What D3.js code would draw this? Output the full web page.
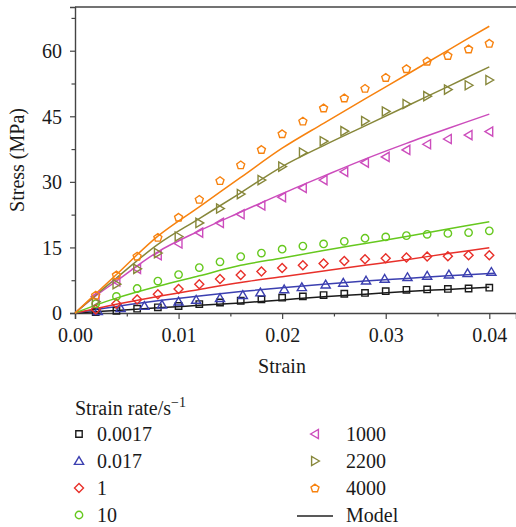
<!DOCTYPE html>
<html>
<head>
<meta charset="utf-8">
<script src="https://cdn.jsdelivr.net/npm/d3@7"></script>
<style>
  html, body { margin: 0; padding: 0; background: #fff; }
  svg { display: block; }
  text { font-family: "Liberation Serif", "DejaVu Serif", serif; fill: #1a1a1a; }
</style>
</head>
<body>
<svg id="chart" width="516" height="527"></svg>
<script>
// Measured strain values (shared by most series)
const strain = [0.002, 0.004, 0.006, 0.008, 0.010, 0.012, 0.014, 0.016, 0.018, 0.020,
                0.022, 0.024, 0.026, 0.028, 0.030, 0.032, 0.034, 0.036, 0.038, 0.040];
// The 0.017 s^-1 test was sampled at slightly different strains
const strainB = [0.0022, 0.0044, 0.0067, 0.0084, 0.0100, 0.0117, 0.0140, 0.0162, 0.0179, 0.0202,
                 0.0219, 0.0242, 0.0259, 0.0281, 0.0299, 0.0321, 0.0340, 0.0361, 0.0379, 0.0402];

// Measured stress (MPa)
const s0017 = [0.2, 0.5, 1.0, 1.3, 1.6, 2.05, 2.4, 2.8, 3.1, 3.5, 3.8, 4.1, 4.4, 4.6, 5.0, 5.3, 5.4, 5.5, 5.6, 5.8];
const s017  = [0.4, 1.1, 1.6, 1.9, 2.6, 3.0, 3.4, 4.1, 4.7, 5.4, 5.9, 6.5, 6.9, 7.4, 7.8, 8.2, 8.5, 8.8, 9.1, 9.4];
const s1    = [0.8, 2.1, 3.1, 4.3, 5.5, 6.6, 7.8, 8.7, 9.5, 10.3, 10.9, 11.3, 11.9, 12.3, 12.5, 12.7, 12.9, 13.0, 13.2, 13.2];
const s10   = [2.1, 3.8, 5.6, 7.3, 8.8, 10.4, 11.7, 12.9, 13.7, 14.6, 15.3, 15.8, 16.4, 17.1, 17.4, 17.7, 18.0, 18.2, 18.4, 18.8];
const s1000 = [3.8, 7.2, 10.1, 13.2, 15.9, 18.4, 20.6, 22.6, 24.6, 26.5, 28.6, 30.4, 32.3, 34.4, 35.7, 37.3, 38.6, 39.8, 40.7, 41.5];
const s2200 = [2.6, 6.6, 10.1, 13.7, 17.5, 20.6, 23.9, 27.2, 30.4, 33.5, 36.7, 39.3, 41.6, 43.9, 46.1, 47.8, 49.6, 51.1, 52.1, 53.3];
const s4000 = [4.1, 8.7, 13.0, 17.3, 21.9, 26.0, 30.3, 33.9, 37.4, 41.0, 43.9, 46.9, 49.2, 51.4, 53.9, 55.9, 57.6, 58.9, 60.4, 61.7];

// Model curves, evaluated at these strains
const mStrain  = [0, 0.002, 0.004, 0.008, 0.012, 0.016, 0.020, 0.024, 0.028, 0.032, 0.036, 0.040];
const mStrainB = [0, 0.002, 0.004, 0.008, 0.012, 0.016, 0.020, 0.024, 0.028, 0.032, 0.036, 0.0405];
const m0017 = [0, 0.3, 0.6, 1.2, 1.75, 2.3, 3.0, 3.7, 4.3, 4.9, 5.4, 5.9];
const m017  = [0, 0.8, 1.5, 2.8, 3.9, 4.9, 5.8, 6.6, 7.3, 7.9, 8.5, 9.1];
const m1    = [0, 1.0, 2.0, 3.8, 5.4, 7.0, 8.3, 9.6, 10.9, 12.2, 13.6, 14.9];
const m10   = [0, 1.8, 3.4, 6.1, 8.5, 10.9, 12.6, 14.3, 15.9, 17.5, 19.2, 20.9];
const m1000 = [0, 3.9, 7.3, 14.0, 18.8, 23.1, 27.3, 31.3, 35.2, 38.8, 42.2, 45.5];
const m2200 = [0, 4.1, 8.0, 15.7, 21.6, 27.5, 33.5, 38.3, 42.8, 47.3, 51.8, 56.3];
const m4000 = [0, 4.4, 8.8, 17.6, 24.3, 31.0, 37.7, 43.4, 49.0, 54.5, 60.1, 65.6];

// Legend entries / series labels
const rateLabels = ["0.0017", "0.017", "1", "10", "1000", "2200", "4000"];
const colors = ["#1a1a1a", "#3b3fb0", "#e8302a", "#66c81e", "#cc4cbc", "#87873a", "#f7820f"];
const shapes = ["square", "triangleUp", "diamond", "circle", "triangleLeft", "triangleRight", "pentagon"];

const xTicks = [0, 0.01, 0.02, 0.03, 0.04];
const yTicks = [0, 15, 30, 45, 60];

const series = [
  { xs: strain,  ys: s0017, mx: mStrain,  my: m0017 },
  { xs: strainB, ys: s017,  mx: mStrainB, my: m017 },
  { xs: strain,  ys: s1,    mx: mStrain,  my: m1 },
  { xs: strain,  ys: s10,   mx: mStrain,  my: m10 },
  { xs: strain,  ys: s1000, mx: mStrain,  my: m1000 },
  { xs: strain,  ys: s2200, mx: mStrain,  my: m2200 },
  { xs: strain,  ys: s4000, mx: mStrain,  my: m4000 }
];

const svg = d3.select("#chart");
const plot = { left: 75, right: 516, top: 7, bottom: 313 };
const FS = "20px";

const x = d3.scaleLinear().domain([0, 0.04]).range([plot.left, 489.3]);
const y = d3.scaleLinear().domain([0, 70]).range([plot.bottom, plot.top]);
// extend the x scale to the right edge of the frame
x.domain([0, x.invert(plot.right)]).range([plot.left, plot.right]);

// marker path generator (centred on 0,0)
function markerPath(shape) {
  switch (shape) {
    case "square": { const h = 3.2; return `M${-h},${-h}H${h}V${h}H${-h}Z`; }
    case "diamond": { const h = 4.5; return `M0,${-h}L${h},0L0,${h}L${-h},0Z`; }
    case "circle": { const r = 3.7; return `M${r},0A${r},${r} 0 1,1 ${-r},0A${r},${r} 0 1,1 ${r},0Z`; }
    case "triangleUp": { return "M0,-4.4L4.6,3.4L-4.6,3.4Z"; }
    case "triangleLeft": { return "M-4.4,0L3.4,-4.6L3.4,4.6Z"; }
    case "triangleRight": { return "M4.4,0L-3.4,-4.6L-3.4,4.6Z"; }
    case "pentagon": {
      const r = 4.2;
      const pts = d3.range(5).map(i => {
        const a = -Math.PI / 2 + i * 2 * Math.PI / 5;
        return [r * Math.cos(a), r * Math.sin(a) + 0.4];
      });
      return "M" + pts.map(p => p[0].toFixed(2) + "," + p[1].toFixed(2)).join("L") + "Z";
    }
  }
}

// axes
const xAxis = d3.axisBottom(x).tickValues(xTicks).tickFormat(d3.format(".2f")).tickSizeOuter(0).tickSize(6).tickPadding(9);
const xMinor = d3.axisBottom(x).tickValues([0.005, 0.015, 0.025, 0.035]).tickFormat("").tickSizeOuter(0).tickSize(3.5);
const yAxis = d3.axisLeft(y).tickValues(yTicks).tickSizeOuter(0).tickSize(5).tickPadding(8);
const yMinor = d3.axisLeft(y).tickValues([7.5, 22.5, 37.5, 52.5, 67.5]).tickFormat("").tickSizeOuter(0).tickSize(3.5);

const gx = svg.append("g").attr("transform", `translate(0,${plot.bottom})`).call(xAxis);
svg.append("g").attr("transform", `translate(0,${plot.bottom})`).call(xMinor).select(".domain").remove();
const gy = svg.append("g").attr("transform", `translate(${plot.left},0)`).call(yAxis);
svg.append("g").attr("transform", `translate(${plot.left},0)`).call(yMinor).select(".domain").remove();

svg.selectAll(".domain").attr("stroke", "#444").attr("stroke-width", 1.4);
svg.selectAll(".tick line").attr("stroke", "#444").attr("stroke-width", 1.2);
svg.selectAll(".tick text").style("font-size", FS).attr("fill", "#1a1a1a")
  .style("font-family", '"Liberation Serif", "DejaVu Serif", serif');
gy.selectAll(".tick text").attr("dy", "0.34em");

// top frame line
svg.append("line")
  .attr("x1", plot.left).attr("x2", plot.right)
  .attr("y1", plot.top).attr("y2", plot.top)
  .attr("stroke", "#444").attr("stroke-width", 1.4);

// axis titles
svg.append("text").attr("x", 282).attr("y", 373).attr("text-anchor", "middle")
  .style("font-size", FS).text("Strain");
svg.append("text").attr("transform", `translate(24,160) rotate(-90)`).attr("text-anchor", "middle")
  .style("font-size", FS).text("Stress (MPa)");

// model curves
const line = d3.line().curve(d3.curveCatmullRom.alpha(0.5));
const curves = svg.append("g");
series.forEach((s, i) => {
  curves.append("path")
    .attr("d", line(s.mx.map((v, k) => [x(v), y(s.my[k])])))
    .attr("fill", "none").attr("stroke", colors[i]).attr("stroke-width", 1.5);
});

// experimental points
const pts = svg.append("g");
series.forEach((s, i) => {
  pts.selectAll(null).data(s.xs.map((v, k) => [v, s.ys[k]])).join("path")
    .attr("transform", d => `translate(${x(d[0])},${y(d[1])})`)
    .attr("d", markerPath(shapes[i]))
    .attr("fill", "none").attr("stroke", colors[i]).attr("stroke-width", 1.4);
});

// legend
const lg = svg.append("g");
const title = lg.append("text").attr("x", 75).attr("y", 415).style("font-size", FS);
title.append("tspan").text("Strain rate/s");
title.append("tspan").attr("dy", -8).style("font-size", "14px").text("\u22121");

const rowY = [434, 461, 488, 515];
rateLabels.forEach((lab, i) => {
  const col = i < 4 ? 0 : 1;
  const row = i < 4 ? i : i - 4;
  const mx = col === 0 ? 79 : 315;
  const tx = col === 0 ? 97 : 346;
  lg.append("path")
    .attr("transform", `translate(${mx},${rowY[row]})`)
    .attr("d", markerPath(shapes[i]))
    .attr("fill", "none").attr("stroke", colors[i]).attr("stroke-width", 1.4);
  lg.append("text").attr("x", tx).attr("y", rowY[row]).attr("dy", "0.35em")
    .style("font-size", FS).text(lab);
});
lg.append("line").attr("x1", 297).attr("x2", 333).attr("y1", 516).attr("y2", 516)
  .attr("stroke", "#222").attr("stroke-width", 1.5);
lg.append("text").attr("x", 346).attr("y", 515).attr("dy", "0.35em")
  .style("font-size", FS).text("Model");
</script>
</body>
</html>
